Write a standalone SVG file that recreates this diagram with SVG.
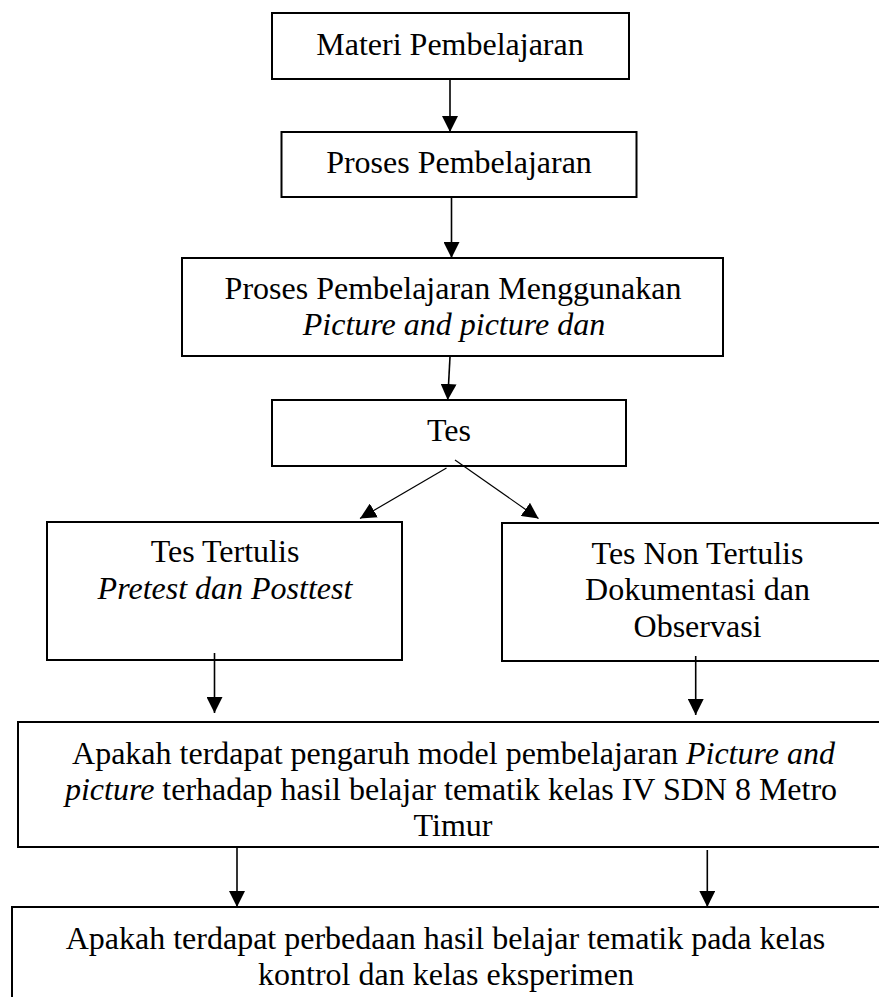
<svg xmlns="http://www.w3.org/2000/svg" width="879" height="997" viewBox="0 0 879 997">
  <style>
    .box { fill: #ffffff; stroke: #000000; stroke-width: 2; }
    .lbl { font-family: "Liberation Serif", "Times New Roman", serif; font-size: 32px; fill: #000000; text-anchor: middle; }
    .it { font-style: italic; }
    .conn { stroke: #000000; stroke-width: 1.6; fill: none; marker-end: url(#arrow); }
    .diag { stroke: #000000; stroke-width: 1.2; fill: none; marker-end: url(#arrow); }
  </style>
  <defs>
    <marker id="arrow" markerUnits="userSpaceOnUse" markerWidth="17" markerHeight="16" refX="16" refY="8" orient="auto" viewBox="0 0 17 16">
      <path d="M0,0 L16,8 L0,16 z" fill="#000000"/>
    </marker>
  </defs>
  <rect width="879" height="997" fill="#ffffff"/>

  <g id="n1">
    <rect class="box" x="272" y="13" width="357" height="66"/>
    <text class="lbl" x="450" y="55">Materi Pembelajaran</text>
  </g>
  <g id="n2">
    <rect class="box" x="281.5" y="132" width="355" height="65"/>
    <text class="lbl" x="459" y="173">Proses Pembelajaran</text>
  </g>
  <g id="n3">
    <rect class="box" x="182" y="258" width="541" height="98"/>
    <text class="lbl" x="453" y="299">Proses Pembelajaran Menggunakan</text>
    <text class="lbl it" x="454" y="335">Picture and picture dan</text>
  </g>
  <g id="n4">
    <rect class="box" x="272" y="400" width="354" height="66"/>
    <text class="lbl" x="449" y="441">Tes</text>
  </g>
  <g id="n5">
    <rect class="box" x="47" y="522" width="355" height="138"/>
    <text class="lbl" x="225" y="562">Tes Tertulis</text>
    <text class="lbl it" x="225" y="598.5">Pretest dan Posttest</text>
  </g>
  <g id="n6">
    <rect class="box" x="502" y="523" width="400" height="138"/>
    <text class="lbl" x="697.5" y="563.5">Tes Non Tertulis</text>
    <text class="lbl" x="697.5" y="600">Dokumentasi dan</text>
    <text class="lbl" x="697.5" y="636.7">Observasi</text>
  </g>
  <g id="n7">
    <rect class="box" x="18" y="722" width="880" height="125"/>
    <text class="lbl" x="453.5" y="764">Apakah terdapat pengaruh model pembelajaran <tspan class="it">Picture and</tspan></text>
    <text class="lbl" x="451" y="800"><tspan class="it">picture</tspan> terhadap hasil belajar tematik kelas IV SDN 8 Metro</text>
    <text class="lbl" x="453" y="836">Timur</text>
  </g>
  <g id="n8">
    <rect class="box" x="12" y="907" width="900" height="120"/>
    <text class="lbl" x="445.5" y="949">Apakah terdapat perbedaan hasil belajar tematik pada kelas</text>
    <text class="lbl" x="446" y="985">kontrol dan kelas eksperimen</text>
  </g>

  <g id="connectors">
    <line class="conn" x1="450" y1="80" x2="450" y2="132"/>
    <line class="conn" x1="451.5" y1="198" x2="451.5" y2="258"/>
    <line class="conn" x1="450" y1="357" x2="447.7" y2="400"/>
    <line class="diag" x1="446.5" y1="468" x2="360" y2="518.5"/>
    <line class="diag" x1="455" y1="460" x2="538.5" y2="518.5"/>
    <line class="conn" x1="214.5" y1="653" x2="214.5" y2="713"/>
    <line class="conn" x1="695.7" y1="656" x2="695.7" y2="715"/>
    <line class="conn" x1="237" y1="848" x2="237" y2="907"/>
    <line class="conn" x1="707.3" y1="850" x2="707.3" y2="907"/>
  </g>
</svg>
